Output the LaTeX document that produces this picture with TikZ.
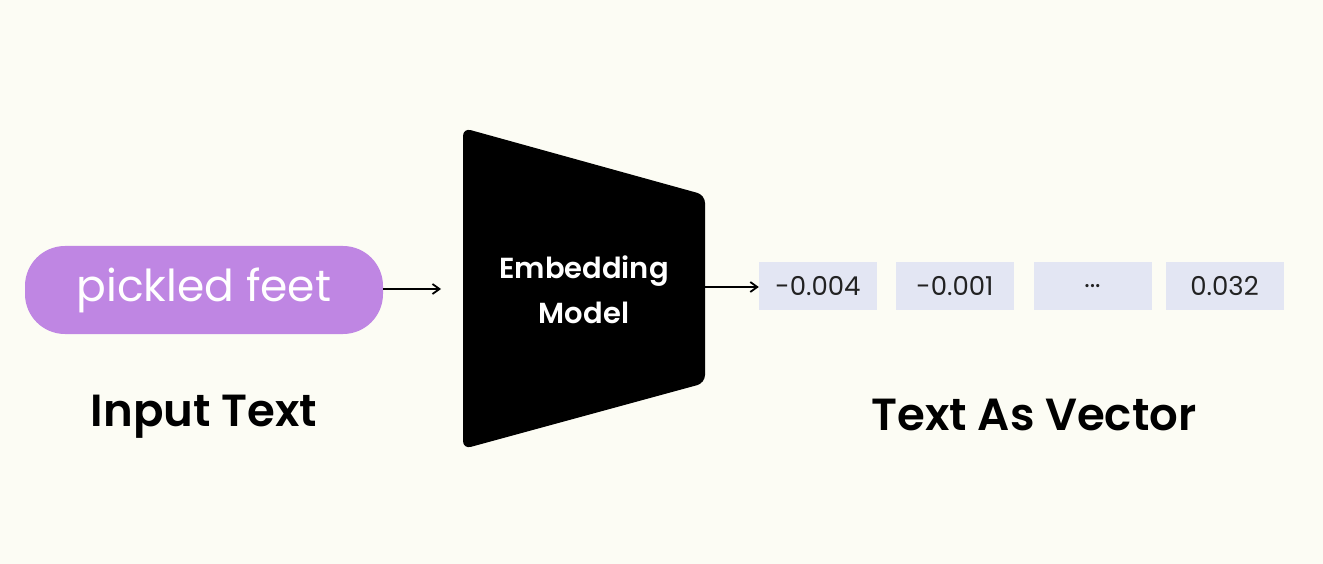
\documentclass[tikz,border=0pt]{standalone}
\usepackage{fontspec}
\setmainfont{Poppins}
\newfontfamily\capfont{Poppins SemiBold}
\definecolor{bg}{HTML}{FCFCF4}
\definecolor{pill}{HTML}{BF86E3}
\definecolor{cell}{HTML}{E3E6F3}
\definecolor{celltext}{HTML}{222222}
\begin{document}
\begin{tikzpicture}[x=1pt,y=-1pt,
  cellbox/.style={fill=cell, minimum width=118pt, minimum height=48pt, inner sep=0pt,
    text=celltext, font=\fontsize{26}{30}\selectfont},
  caption/.style={font=\fontsize{45}{50}\capfont, text=black},
  conn/.style={-{Straight Barb[length=7pt,width=10pt,line width=1.8pt]}, line width=1.8pt, black}]
\usetikzlibrary{arrows.meta}
\fill[bg] (0,0) rectangle (1323,564);
\useasboundingbox (0,0) rectangle (1323,564);
\node[fill=pill, rounded corners=40pt, minimum width=358pt, minimum height=88pt, inner sep=0pt,
  text=white, font=\fontsize{44}{48}\selectfont] (pill) at (204,290) {\raisebox{-3pt}{pickled feet}};
\fill[black, rounded corners=8pt] (463,128) -- (705,195) -- (705,383) -- (463,449) -- cycle;
\coordinate (mleft) at (441,289);
\coordinate (mright) at (705,287);
\node[text=white, font=\fontsize{29}{45}\capfont, align=center] (model) at (584,290) {Embedding\\Model};
\node[cellbox] (c1) at (818,286) {-0.004};
\node[cellbox] (c2) at (955,286) {-0.001};
\node[cellbox] (c3) at (1092.5,286) {...};
\node[cellbox] (c4) at (1224.5,286) {0.032};
\draw[conn] (pill.east |- mleft) -- (mleft);
\draw[conn] (mright) -- (c1.west |- mright);
\node[caption] (in) at (204,417) {Input Text};
\node[caption] (out) at (1034,415) {Text As Vector};
\end{tikzpicture}
\end{document}
